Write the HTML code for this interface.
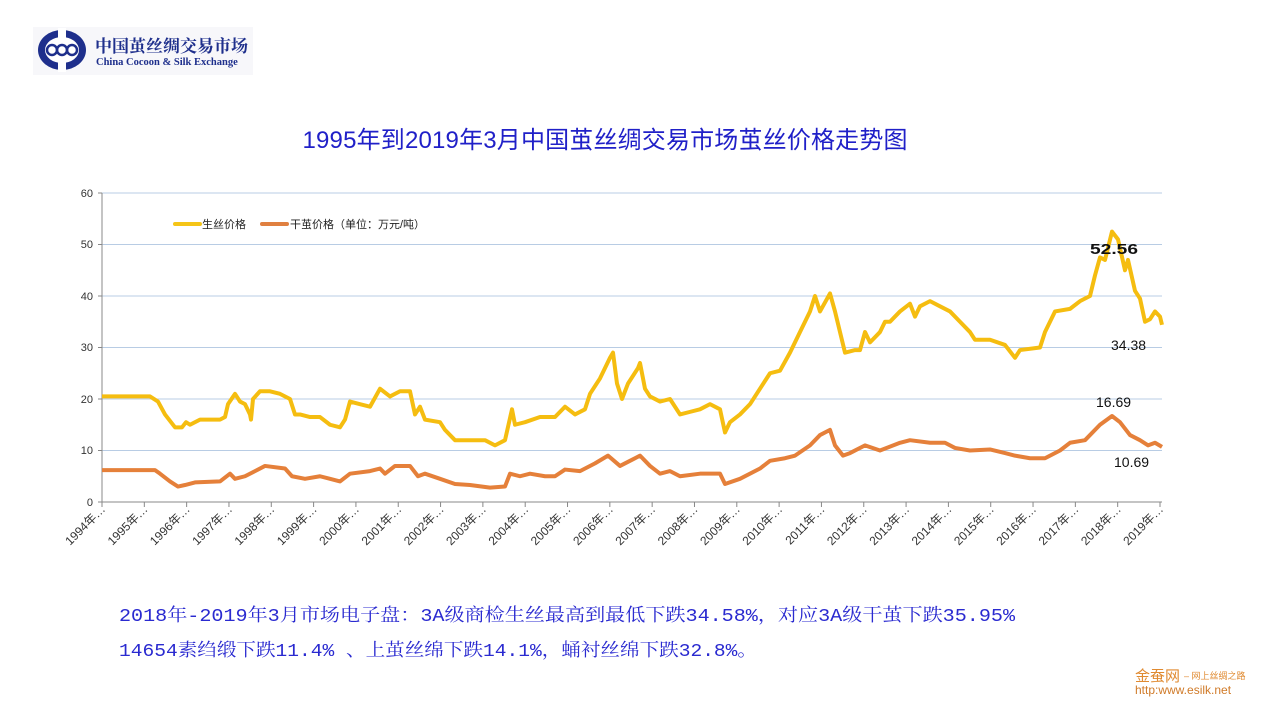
<!DOCTYPE html>
<html><head><meta charset="utf-8"><style>
body{margin:0;width:1280px;height:720px;background:#fff;overflow:hidden;font-family:"Liberation Sans","Noto Sans CJK SC",sans-serif}
</style></head><body>
<svg width="1280" height="720" xmlns="http://www.w3.org/2000/svg" style="position:absolute;left:0;top:0">
<rect x="33" y="27" width="220" height="48" fill="#f7f7fa"/>
<ellipse cx="62" cy="50" rx="24" ry="20" fill="#1e2f8c"/>
<ellipse cx="62" cy="50" rx="17" ry="13" fill="#fff"/>
<rect x="58" y="28" width="8" height="44" fill="#fff"/>
<g fill="none" stroke="#1e2f8c" stroke-width="2.5"><circle cx="52" cy="50" r="5"/><circle cx="62" cy="50" r="5"/><circle cx="72" cy="50" r="5"/></g>
<text x="95" y="52" font-family="'Noto Serif CJK SC',serif" font-size="17" fill="#1e2f8c" font-weight="bold">中国茧丝绸交易市场</text>
<text x="96" y="65" font-family="'Liberation Serif',serif" font-size="10.5" fill="#1e2f8c" font-weight="bold">China Cocoon &amp; Silk Exchange</text>
<text x="605" y="148" text-anchor="middle" font-size="24" fill="#2020c8" textLength="605">1995年到2019年3月中国茧丝绸交易市场茧丝价格走势图</text>
<g stroke="#b8cce4" stroke-width="1">
<line x1="102" y1="193" x2="1162" y2="193"/><line x1="102" y1="244.5" x2="1162" y2="244.5"/><line x1="102" y1="296" x2="1162" y2="296"/><line x1="102" y1="347.5" x2="1162" y2="347.5"/><line x1="102" y1="399" x2="1162" y2="399"/><line x1="102" y1="450.5" x2="1162" y2="450.5"/>
</g>
<g stroke="#888" stroke-width="1"><line x1="102" y1="193" x2="102" y2="502"/><line x1="98" y1="502" x2="1162" y2="502"/>
<line x1="98" y1="193" x2="102" y2="193"/><line x1="98" y1="244.5" x2="102" y2="244.5"/><line x1="98" y1="296" x2="102" y2="296"/><line x1="98" y1="347.5" x2="102" y2="347.5"/><line x1="98" y1="399" x2="102" y2="399"/><line x1="98" y1="450.5" x2="102" y2="450.5"/></g>
<g font-size="11" fill="#333" text-anchor="end">
<text x="93" y="197">60</text><text x="93" y="248">50</text><text x="93" y="300">40</text><text x="93" y="351">30</text><text x="93" y="403">20</text><text x="93" y="454">10</text><text x="93" y="506">0</text></g>
<g id="xl" font-size="12" fill="#333" text-anchor="end"></g>
<line x1="175" y1="224" x2="200" y2="224" stroke="#f5c518" stroke-width="4" stroke-linecap="round"/>
<text x="202" y="228" font-size="11" fill="#222">生丝价格</text>
<line x1="262" y1="224" x2="287" y2="224" stroke="#e08040" stroke-width="4" stroke-linecap="round"/>
<text x="290" y="228" font-size="11" fill="#222">干茧价格（单位：万元/吨）</text>
<g transform="translate(0,502) scale(1,-5.15)" fill="none" stroke-linejoin="round">
<polyline vector-effect="non-scaling-stroke" stroke="#f5bd10" stroke-width="4" points="102,20.5 150,20.5 158,19.5 165,17 175,14.5 182,14.5 186,15.5 190,15 200,16 210,16 220,16 225,16.5 228,19 235,21 240,19.5 245,19 250,17 251,16 253,20 260,21.5 270,21.5 280,21 290,20 295,17 300,17 310,16.5 320,16.5 330,15 340,14.5 345,16 350,19.5 360,19 370,18.5 380,22 390,20.5 400,21.5 410,21.5 415,17 420,18.5 425,16 440,15.5 445,14 455,12 465,12 475,12 485,12 495,11 505,12 512,18 515,15 525,15.5 540,16.5 555,16.5 565,18.5 575,17 585,18 590,21 600,24 610,28 613,29 617,23 622,20 628,23 638,26 640,27 645,22 650,20.5 660,19.5 670,20 680,17 690,17.5 700,18 710,19 720,18 725,13.5 730,15.5 740,17 750,19 760,22 770,25 780,25.5 790,29 800,33 810,37 815,40 820,37 830,40.5 835,37 840,33 845,29 855,29.5 860,29.5 865,33 870,31 880,33 885,35 890,35 900,37 910,38.5 915,36 920,38 930,39 940,38 950,37 960,35 970,33 975,31.5 990,31.5 1005,30.5 1015,28 1020,29.5 1040,30 1045,33 1055,37 1070,37.5 1080,39 1090,40 1095,44 1100,47.5 1105,47 1112,52.5 1118,51 1125,45 1128,47 1135,41 1140,39.5 1145,35 1150,35.5 1155,37 1160,36 1162,34.4"/>
<polyline vector-effect="non-scaling-stroke" stroke="#e5803a" stroke-width="4" points="102,6.2 155,6.2 160,5.5 170,4 178,3 185,3.3 195,3.8 220,4 230,5.5 235,4.5 245,5 255,6 265,7 285,6.5 292,5 305,4.5 320,5 330,4.5 340,4 350,5.5 370,6 380,6.5 385,5.5 395,7 410,7 418,5 425,5.5 440,4.5 455,3.5 470,3.3 490,2.8 505,3 510,5.5 520,5 530,5.5 545,5 555,5 565,6.3 580,6 595,7.5 608,9 620,7 630,8 640,9 650,7 660,5.5 670,6 680,5 700,5.5 720,5.5 725,3.5 740,4.5 760,6.5 770,8 785,8.5 795,9 810,11 820,13 830,14 835,11 843,9 850,9.5 865,11 880,10 900,11.5 910,12 930,11.5 945,11.5 955,10.5 970,10 990,10.2 1005,9.5 1015,9 1030,8.5 1045,8.5 1060,10 1070,11.5 1085,12 1100,15 1112,16.7 1120,15.5 1130,13 1140,12 1148,11 1155,11.5 1162,10.7"/>
</g>
<g font-size="14" fill="#111">
<text x="1090" y="254" font-weight="bold" font-size="15" textLength="48" lengthAdjust="spacingAndGlyphs">52.56</text>
<text x="1111" y="350">34.38</text>
<text x="1096" y="407">16.69</text>
<text x="1114" y="467">10.69</text>
</g>
<g font-family="'Liberation Mono','Noto Serif CJK SC',serif" font-size="18" fill="#2a2ad0">
<text x="119" y="621" textLength="896" lengthAdjust="spacingAndGlyphs">2018年-2019年3月市场电子盘：3A级商检生丝最高到最低下跌34.58%，对应3A级干茧下跌35.95%</text>
<text x="119" y="656" textLength="638" lengthAdjust="spacingAndGlyphs">14654素绉缎下跌11.4% 、上茧丝绵下跌14.1%，蛹衬丝绵下跌32.8%。</text>
</g>
<text x="1135" y="681" font-size="15" fill="#e08a30">金蚕网</text>
<text x="1184" y="679" font-size="9" fill="#e08a30">– 网上丝绸之路</text>
<text x="1135" y="694" font-size="12" fill="#d07a28">http:www.esilk.net</text>
</svg>
<script>
var g=document.getElementById('xl'),s='';
for(var i=0;i<26;i++){var x=102+i*42.32;s+='<line x1="'+x+'" y1="502" x2="'+x+'" y2="507" stroke="#888"/>';
s+='<text transform="translate('+(x+4)+',510) rotate(-45)">'+(1994+i)+'年…</text>';}
g.innerHTML=s;
</script>
</body></html>
